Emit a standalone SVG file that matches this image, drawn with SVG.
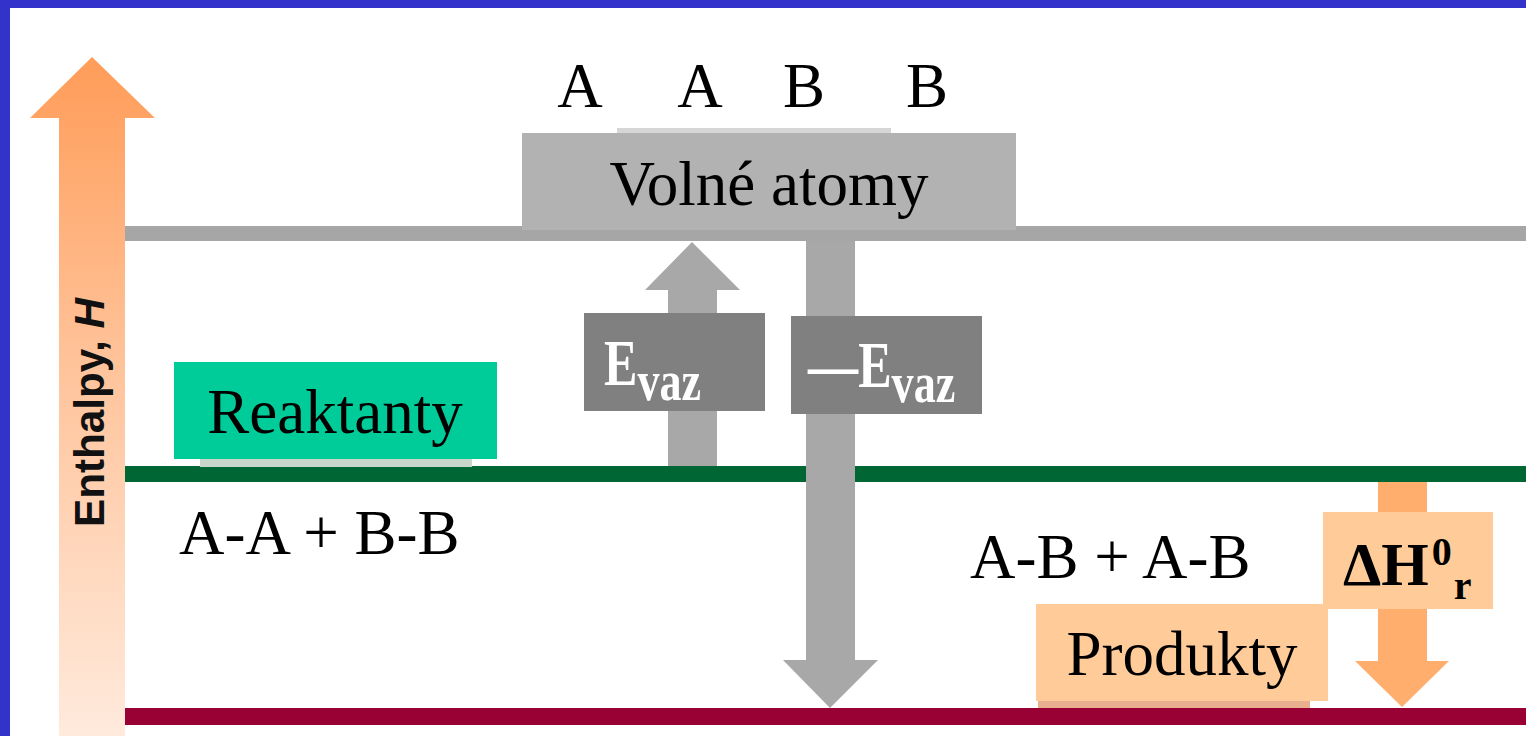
<svg xmlns="http://www.w3.org/2000/svg" width="1526" height="736" viewBox="0 0 1526 736">
<defs>
<linearGradient id="axisGrad" x1="0" y1="0" x2="0" y2="1">
<stop offset="0" stop-color="#ff9c58"/>
<stop offset="0.45" stop-color="#ffc39a"/>
<stop offset="1" stop-color="#ffeadc"/>
</linearGradient>
<style>
.serif{font-family:"Liberation Serif","Times New Roman",serif;fill:#000}
.big{font-size:63px}
.bold{font-weight:bold}
.white{fill:#fff}
.grayArrow{fill:#a8a8a8}
.orangeArrow{fill:#ffae6e}
</style>
</defs>
<rect x="0" y="0" width="1526" height="736" fill="#ffffff"/>
<rect x="0" y="0" width="1526" height="8" fill="#3333cc"/>
<rect x="0" y="0" width="10" height="736" fill="#3333cc"/>

<g id="axis">
<path d="M92,57 L155,118 L125,118 L125,736 L59,736 L59,118 L30,118 Z" fill="url(#axisGrad)"/>
<text transform="translate(104,527) rotate(-90)" font-family="'Liberation Sans',Arial,sans-serif" font-weight="bold" font-size="42" textLength="229" lengthAdjust="spacingAndGlyphs" fill="#111">Enthalpy, <tspan font-style="italic">H</tspan></text>
</g>

<g id="levels">
<rect x="125" y="226" width="1401" height="15" fill="#a6a6a6"/>
<rect x="125" y="466" width="1401" height="16" fill="#006633"/>
<rect x="125" y="708" width="1401" height="17" fill="#990033"/>
</g>

<g id="connectors">
<path id="arrow-up" class="grayArrow" d="M692,242 L740,290 L717,290 L717,466 L668,466 L668,290 L645,290 Z"/>
<path id="arrow-down" class="grayArrow" d="M806,241 L855,241 L855,660 L878,660 L830,708 L783,660 L806,660 Z"/>
<path id="arrow-dh" class="orangeArrow" d="M1378,482 L1427,482 L1427,661 L1449,661 L1402,707 L1355,661 L1378,661 Z"/>
</g>

<g id="atoms">
<text class="serif big" x="580" y="107" text-anchor="middle">A</text>
<text class="serif big" x="700" y="107" text-anchor="middle">A</text>
<text class="serif big" x="804" y="107" text-anchor="middle">B</text>
<text class="serif big" x="927" y="107" text-anchor="middle">B</text>
</g>

<g id="volne-atomy">
<rect x="617" y="128" width="274" height="6" fill="#d6d6d6"/>
<rect x="522" y="133" width="494" height="97" fill="#b2b2b2"/>
<text class="serif big" x="769" y="205" text-anchor="middle">Volné atomy</text>
</g>

<g id="reaktanty">
<rect x="200" y="458" width="272" height="9" fill="#c9d6c9"/>
<rect x="174" y="362" width="323" height="97" fill="#00cc99"/>
<text class="serif big" x="335" y="433" text-anchor="middle">Reaktanty</text>
</g>

<g id="reactants-formula">
<text class="serif big" x="179" y="554">A-A + B-B</text>
</g>

<g id="products-formula">
<text class="serif big" x="970" y="578">A-B + A-B</text>
</g>

<g id="produkty">
<rect x="1038" y="700" width="272" height="8" fill="#e8b08e"/>
<rect x="1036" y="604" width="292" height="97" fill="#ffcc99"/>
<text class="serif big" x="1182" y="675" text-anchor="middle">Produkty</text>
</g>

<g id="evaz">
<rect x="584" y="313" width="181" height="98" fill="#808080"/>
<g transform="translate(604,0) scale(0.76,1)">
<text class="serif bold white" x="0" y="385" font-size="66">E<tspan font-size="58" dy="15">vaz</tspan></text>
</g>
</g>

<g id="minus-evaz">
<rect x="791" y="316" width="191" height="98" fill="#808080"/>
<g transform="translate(808,0) scale(0.76,1)">
<text class="serif bold white" x="0" y="387" font-size="66">—E<tspan font-size="58" dy="15">vaz</tspan></text>
</g>
</g>

<g id="delta-h">
<rect x="1323" y="512" width="170" height="97" fill="#ffcc99"/>
<text class="serif bold" x="1343" y="585" font-size="61">ΔH<tspan font-size="40" dx="3" dy="-20">0</tspan><tspan font-size="40" dx="2" dy="34">r</tspan></text>
</g>
</svg>
